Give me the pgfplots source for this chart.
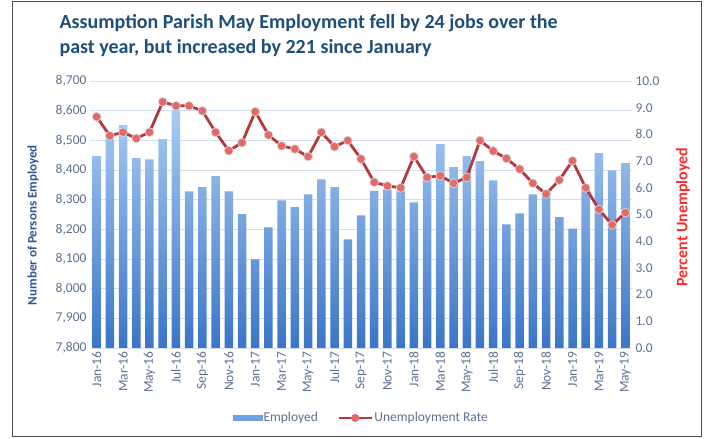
\documentclass[border=0pt]{standalone}
\usepackage{fontspec}
\setmainfont{Carlito}
\usepackage{pgfplots}
\usepackage{pgfplotstable}
\pgfplotsset{compat=1.18}

\definecolor{TitleBlue}{HTML}{1F4E79}
\definecolor{TickGray}{HTML}{5B7093}
\definecolor{GridBlue}{HTML}{D3DEF1}
\definecolor{BarTop}{HTML}{A9CBF3}
\definecolor{BarBot}{HTML}{3A76C6}
\definecolor{BarMid}{HTML}{6FA0E0}
\definecolor{LineRed}{HTML}{B5393A}
\definecolor{MarkRed}{HTML}{E46A6A}
\definecolor{LabBlue}{HTML}{2F5597}
\definecolor{LabRed}{HTML}{FF2A2A}

% month index, persons employed, unemployment rate (%)
\pgfplotstableread{
idx emp rate
1 8447 8.66
2 8507 7.95
3 8551 8.08
4 8440 7.85
5 8436 8.08
6 8504 9.22
7 8602 9.07
8 8328 9.07
9 8342 8.88
10 8379 8.08
11 8328 7.39
12 8251 7.69
13 8099 8.85
14 8207 7.98
15 8298 7.57
16 8275 7.45
17 8318 7.17
18 8368 8.08
19 8342 7.54
20 8166 7.77
21 8247 7.08
22 8330 6.21
23 8335 6.07
24 8330 6.00
25 8291 7.17
26 8370 6.39
27 8487 6.45
28 8410 6.17
29 8447 6.39
30 8430 7.77
31 8365 7.38
32 8217 7.10
33 8254 6.70
34 8318 6.17
35 8320 5.77
36 8241 6.29
37 8202 7.01
38 8339 6.00
39 8457 5.19
40 8399 4.61
41 8423 5.07
}\empdata

\newcommand{\tickfont}{\fontsize{13.5bp}{16bp}\selectfont}

\pgfplotsset{
  base/.style={
    at={(90bp,91bp)}, anchor=south west,
    scale only axis, width=542bp, height=267bp,
    xmin=0.5, xmax=41.5,
    axis line style={draw=none},
    major tick length=0pt,
    tick label style={font=\tickfont, text=TickGray},
    /pgf/number format/assume math mode=true,
  }
}

\begin{document}
\begin{tikzpicture}
  \useasboundingbox (0bp,0bp) rectangle (711bp,439bp);
  \draw[black!70, line width=1bp] (12bp,2bp) rectangle (701bp,437bp);

  \node[anchor=base west, font=\bfseries\fontsize{20bp}{24bp}\selectfont, text=TitleBlue]
    at (56bp,410bp) {Assumption Parish May Employment fell by 24 jobs over the};
  \node[anchor=base west, font=\bfseries\fontsize{20bp}{24bp}\selectfont, text=TitleBlue]
    at (56bp,385bp) {past year, but increased by 221 since January};

  \begin{axis}[
    base,
    axis y line*=left, axis x line*=bottom,
    ymin=0, ymax=900,
    ytick={0,100,...,900},
    yticklabel={\pgfmathparse{\tick+7800}\pgfmathprintnumber[fixed,precision=0]{\pgfmathresult}},
    ymajorgrids,
    grid style={GridBlue, line width=0.9bp},
    xtick={1,3,...,41},
    xticklabels={Jan-16,Mar-16,May-16,Jul-16,Sep-16,Nov-16,Jan-17,Mar-17,May-17,Jul-17,Sep-17,Nov-17,Jan-18,Mar-18,May-18,Jul-18,Sep-18,Nov-18,Jan-19,Mar-19,May-19},
    xticklabel style={rotate=90, anchor=east},
    ylabel={Number of Persons Employed},
    every axis y label/.style={at={(axis description cs:-0.105,0.46)}, anchor=center, rotate=90,
      font=\bfseries\fontsize{13bp}{15bp}\selectfont, text=LabBlue},
  ]
    \addplot[ybar, bar width=8.5bp, draw=none, top color=BarTop, bottom color=BarBot]
      table[x=idx, y expr=\thisrow{emp}-7800] {\empdata};
  \end{axis}

  \begin{axis}[
    base,
    axis y line*=right, axis x line=none,
    ymin=0, ymax=10,
    ytick={0,1,...,10},
    yticklabel style={/pgf/number format/.cd, fixed, fixed zerofill, precision=1},
    ylabel={Percent Unemployed},
    every axis y label/.style={at={(axis description cs:1.094,0.49)}, anchor=center, rotate=90,
      font=\bfseries\fontsize{16bp}{18bp}\selectfont, text=LabRed},
    legend columns=2,
    legend style={at={(axis description cs:0.5,-0.262)}, anchor=center, draw=none, fill=none,
      font=\tickfont, text=TickGray, column sep=0bp,
      nodes={inner xsep=1.5bp},
      /tikz/every even column/.append style={column sep=18bp}},
  ]
    \addlegendimage{legend image code/.code={\fill[BarMid] (0bp,-2.4bp) rectangle (29bp,2.4bp);}}
    \addlegendentry{Employed}
    \addplot[LineRed, line width=2.8bp, mark=*, mark size=4.4bp,
      mark options={fill=MarkRed, draw=white!85!black, line width=0.7bp},
      legend image code/.code={\draw[LineRed, line width=2.6bp] (0bp,0bp) -- (33bp,0bp);
        \fill[MarkRed] (16.5bp,0bp) circle (2.6bp);}]
      table[x=idx, y=rate] {\empdata};
    \addlegendentry{Unemployment Rate}
  \end{axis}
\end{tikzpicture}
\end{document}
